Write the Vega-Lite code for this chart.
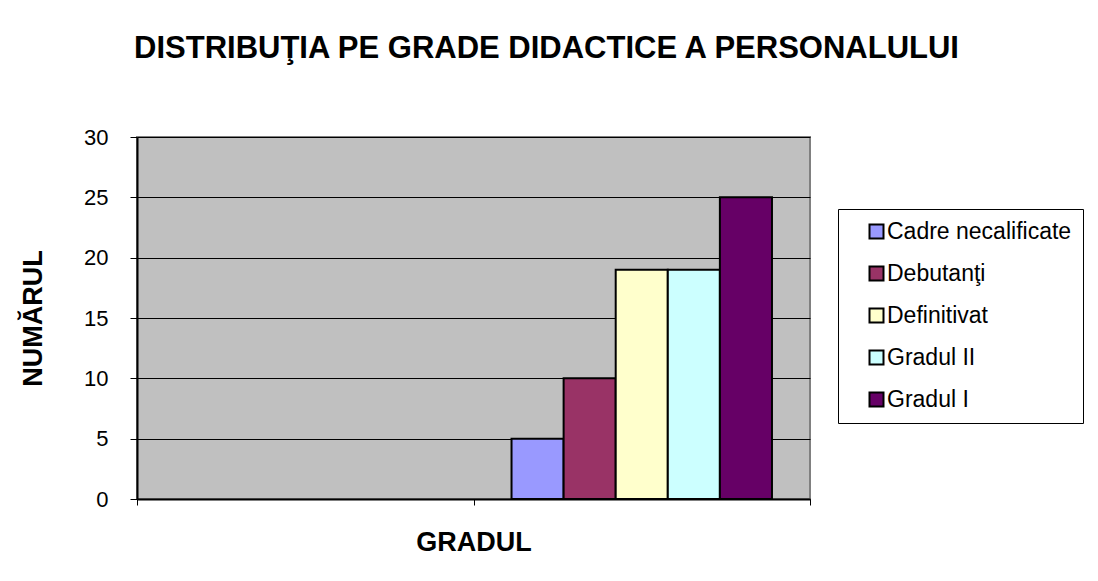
{
  "$schema": "https://vega.github.io/schema/vega-lite/v6.json",
  "width": 673,
  "height": 362,
  "autosize": {"type": "none"},
  "padding": {"left": 137, "top": 137, "right": 288, "bottom": 82},
  "background": "white",
  "title": {
    "text": "DISTRIBUŢIA PE GRADE DIDACTICE A PERSONALULUI",
    "font": "Liberation Sans",
    "fontSize": 31,
    "fontWeight": "bold",
    "color": "black",
    "anchor": "middle",
    "frame": "group",
    "dx": 73,
    "offset": 61
  },
  "config": {
    "view": {"fill": "#C0C0C0", "stroke": "#808080", "strokeWidth": 2},
    "font": "Liberation Sans"
  },
  "data": {
    "values": [
      {"grup": "GRADUL", "grad": "Cadre necalificate", "numar": 5},
      {"grup": "GRADUL", "grad": "Debutanţi", "numar": 10},
      {"grup": "GRADUL", "grad": "Definitivat", "numar": 19},
      {"grup": "GRADUL", "grad": "Gradul II", "numar": 19},
      {"grup": "GRADUL", "grad": "Gradul I", "numar": 25}
    ]
  },
  "mark": {"type": "bar", "stroke": "black", "strokeWidth": 2},
  "encoding": {
    "x": {
      "field": "grup",
      "type": "nominal",
      "scale": {"domain": ["-", "GRADUL"], "paddingInner": 0, "paddingOuter": 0},
      "axis": {
        "labels": false,
        "ticks": true,
        "tickBand": "extent",
        "tickSize": 6,
        "tickColor": "black",
        "grid": false,
        "domainColor": "black",
        "domainWidth": 2,
        "title": "GRADUL",
        "titleFont": "Liberation Sans",
        "titleFontSize": 27,
        "titleFontWeight": "bold",
        "titleColor": "black",
        "titlePadding": 24
      }
    },
    "xOffset": {
      "field": "grad",
      "type": "nominal",
      "sort": ["Cadre necalificate", "Debutanţi", "Definitivat", "Gradul II", "Gradul I"],
      "scale": {"paddingInner": 0, "paddingOuter": 0.73}
    },
    "y": {
      "field": "numar",
      "type": "quantitative",
      "scale": {"domain": [0, 30], "nice": false},
      "axis": {
        "values": [0, 5, 10, 15, 20, 25, 30],
        "tickSize": 7,
        "tickColor": "black",
        "domainColor": "black",
        "domainWidth": 2,
        "labelFontSize": 22,
        "labelColor": "black",
        "labelPadding": 22,
        "grid": true,
        "gridColor": "#000000",
        "gridWidth": 1,
        "title": "NUMĂRUL",
        "titleFontSize": 27,
        "titleFontWeight": "bold",
        "titleColor": "black",
        "titlePadding": 36
      }
    },
    "color": {
      "field": "grad",
      "type": "nominal",
      "scale": {
        "domain": ["Cadre necalificate", "Debutanţi", "Definitivat", "Gradul II", "Gradul I"],
        "range": ["#9999FF", "#993366", "#FFFFCC", "#CCFFFF", "#660066"]
      },
      "legend": {
        "orient": "none",
        "legendX": 701,
        "legendY": 72,
        "title": null,
        "strokeColor": "black",
        "fillColor": "white",
        "padding": 11,
        "symbolType": "square",
        "symbolSize": 196,
        "symbolOffset": 16,
        "symbolStrokeColor": "black",
        "symbolStrokeWidth": 2,
        "symbolOpacity": 1,
        "labelFontSize": 23,
        "labelColor": "black",
        "labelOffset": -1,
        "labelLimit": 400,
        "labelExpr": "datum.label + '\u00a0\u00a0\u00a0\u00a0\u00a0\u00a0'",
        "rowPadding": 18
      }
    }
  }
}
